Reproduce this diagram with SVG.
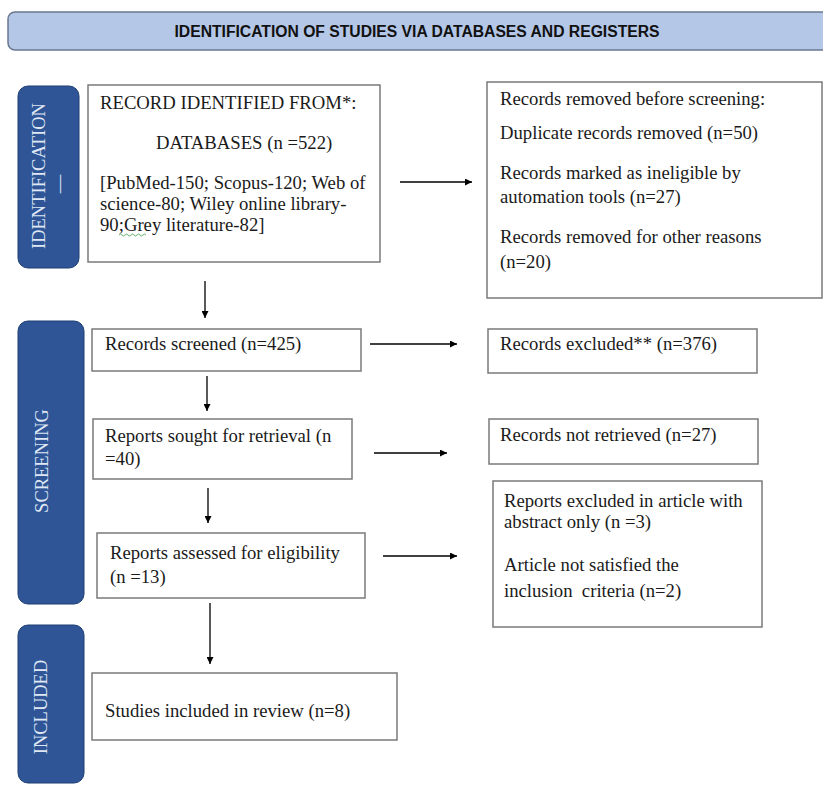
<svg xmlns="http://www.w3.org/2000/svg" width="823" height="785" viewBox="0 0 823 785">
<defs>
<marker id="ah" viewBox="0 0 10 10" refX="10" refY="5" markerWidth="8" markerHeight="7" markerUnits="userSpaceOnUse" orient="auto">
<path d="M0,0 L10,5 L0,10 z" fill="#000"/>
</marker>
<style>
.box{fill:#fff;stroke:#7a7a7a;stroke-width:1.5}
.t{font-family:"Liberation Serif","Times New Roman",serif;font-size:18.7px;fill:#1a1a1a}
.lab{fill:#2f5597;stroke:#1f3f75;stroke-width:1}
.lt{font-family:"Liberation Serif","Times New Roman",serif;font-size:18.5px;fill:#dfe7f5;text-anchor:middle}
.ln{stroke:#000;stroke-width:1.3;fill:none;marker-end:url(#ah)}
</style>
</defs>
<rect width="823" height="785" fill="#fff"/>
<g id="header">
<rect x="8" y="12" width="822" height="38" rx="7" fill="#b4c7e7" stroke="#6a7890" stroke-width="1.5"/>
<text x="417" y="37" text-anchor="middle" font-family="Liberation Sans, Arial, sans-serif" font-weight="bold" font-size="16" fill="#111" textLength="485" lengthAdjust="spacingAndGlyphs">IDENTIFICATION OF STUDIES VIA DATABASES AND REGISTERS</text>
</g>
<g id="label-identification">
<rect class="lab" x="18" y="86" width="61" height="182" rx="10"/>
<text class="lt" transform="translate(45,176) rotate(-90)">IDENTIFICATION</text>
<text class="lt" font-size="14" transform="translate(65,184) rotate(-90)">—</text>
</g>
<g id="label-screening">
<rect class="lab" x="18" y="321" width="66" height="283" rx="10"/>
<text class="lt" transform="translate(48,461) rotate(-90)">SCREENING</text>
</g>
<g id="label-included">
<rect class="lab" x="18" y="625" width="66" height="158" rx="10"/>
<text class="lt" transform="translate(47,707) rotate(-90)">INCLUDED</text>
</g>
<g id="records-identified">
<rect class="box" x="88" y="85" width="292" height="177"/>
<text class="t" x="100" y="109" font-size="19.3">RECORD IDENTIFIED FROM*:</text>
<text class="t" x="156" y="149">DATABASES (n =522)</text>
<text class="t" x="100" y="189">[PubMed-150; Scopus-120; Web of</text>
<text class="t" x="100" y="210">science-80; Wiley online library-</text>
<text class="t" x="100" y="231">90;Grey literature-82]</text>
<path d="M119,235 q1.5,-2 3,0 t3,0 t3,0 t3,0 t3,0 t3,0 t3,0 t3,0 t3,0" fill="none" stroke="#3aa040" stroke-width="0.8"/>
</g>
<g id="records-removed">
<rect class="box" x="487" y="82" width="335" height="216"/>
<text class="t" x="500" y="105">Records removed before screening:</text>
<text class="t" x="500" y="139">Duplicate records removed (n=50)</text>
<text class="t" x="500" y="179">Records marked as ineligible by</text>
<text class="t" x="500" y="203">automation tools (n=27)</text>
<text class="t" x="500" y="243">Records removed for other reasons</text>
<text class="t" x="500" y="268">(n=20)</text>
</g>
<g id="records-screened">
<rect class="box" x="92" y="329" width="269" height="42"/>
<text class="t" x="105" y="350">Records screened (n=425)</text>
</g>
<g id="records-excluded">
<rect class="box" x="488" y="329" width="269" height="44"/>
<text class="t" x="500" y="350">Records excluded** (n=376)</text>
</g>
<g id="reports-sought">
<rect class="box" x="93" y="419" width="259" height="60"/>
<text class="t" x="105" y="442">Reports sought for retrieval (n</text>
<text class="t" x="105" y="465">=40)</text>
</g>
<g id="records-not-retrieved">
<rect class="box" x="489" y="419" width="269" height="45"/>
<text class="t" x="500" y="441">Records not retrieved (n=27)</text>
</g>
<g id="reports-assessed">
<rect class="box" x="97" y="533" width="268" height="65"/>
<text class="t" x="110" y="559">Reports assessed for eligibility</text>
<text class="t" x="110" y="583">(n =13)</text>
</g>
<g id="reports-excluded">
<rect class="box" x="493" y="481" width="269" height="146"/>
<text class="t" x="504" y="507">Reports excluded in article with</text>
<text class="t" x="504" y="528">abstract only (n =3)</text>
<text class="t" x="504" y="571">Article not satisfied the</text>
<text class="t" x="504" y="597" xml:space="preserve">inclusion  criteria (n=2)</text>
</g>
<g id="studies-included">
<rect class="box" x="92" y="673" width="305" height="67"/>
<text class="t" x="105" y="717">Studies included in review (n=8)</text>
</g>
<g id="connectors">
<line class="ln" x1="400" y1="182" x2="472" y2="182"/>
<line class="ln" x1="205" y1="281" x2="205" y2="318"/>
<line class="ln" x1="370" y1="344" x2="457" y2="344"/>
<line class="ln" x1="207" y1="376" x2="207" y2="411"/>
<line class="ln" x1="374" y1="453" x2="447" y2="453"/>
<line class="ln" x1="208" y1="488" x2="208" y2="523"/>
<line class="ln" x1="383" y1="556" x2="457" y2="556"/>
<line class="ln" x1="210" y1="603" x2="210" y2="664"/>
</g>
</svg>
